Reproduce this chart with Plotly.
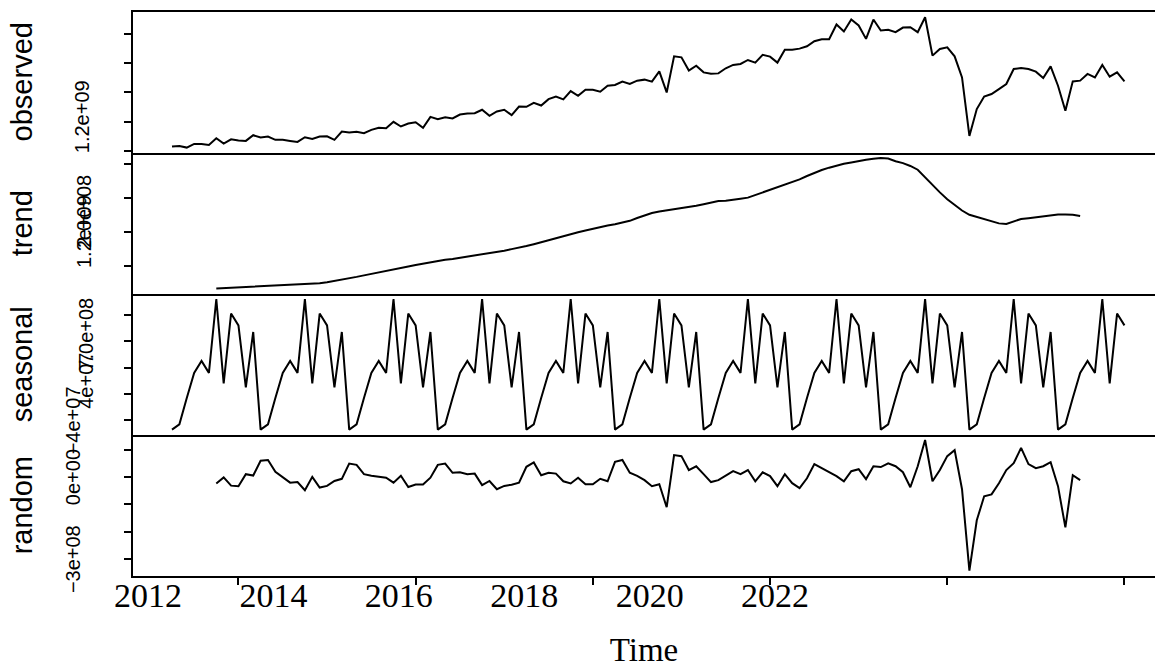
import numpy as np
import plotly.graph_objects as go

# Monthly series, April 2011 .. January 2022
START = 2011 + 3 / 12
N = 130

observed_bn = [
    1.028, 1.032, 1.021, 1.046, 1.046, 1.039, 1.085, 1.048, 1.078, 1.069, 1.067, 1.106,
    1.090, 1.097, 1.074, 1.074, 1.067, 1.060, 1.092, 1.080, 1.097, 1.099, 1.074, 1.131,
    1.124, 1.129, 1.120, 1.143, 1.157, 1.154, 1.198, 1.166, 1.186, 1.195, 1.157, 1.232,
    1.216, 1.230, 1.221, 1.248, 1.255, 1.257, 1.281, 1.239, 1.269, 1.281, 1.244, 1.303,
    1.301, 1.329, 1.310, 1.354, 1.372, 1.352, 1.409, 1.377, 1.418, 1.418, 1.405, 1.446,
    1.451, 1.474, 1.458, 1.481, 1.488, 1.474, 1.545, 1.400, 1.648, 1.641, 1.550, 1.584,
    1.538, 1.529, 1.531, 1.566, 1.589, 1.596, 1.623, 1.605, 1.658, 1.646, 1.605, 1.694,
    1.694, 1.701, 1.717, 1.752, 1.766, 1.766, 1.867, 1.819, 1.901, 1.860, 1.768, 1.901,
    1.826, 1.830, 1.814, 1.846, 1.848, 1.814, 1.917, 1.653, 1.699, 1.710, 1.648, 1.503,
    1.101, 1.286, 1.372, 1.389, 1.423, 1.458, 1.561, 1.568, 1.561, 1.543, 1.499, 1.579,
    1.446, 1.274, 1.476, 1.481, 1.527, 1.503, 1.589, 1.508, 1.538, 1.476,
]

# centred moving average, defined from the 7th to the 124th month
trend_bn = [
    1.066, 1.068, 1.071, 1.073, 1.076, 1.079, 1.081, 1.083, 1.085, 1.087, 1.088, 1.091,
    1.093, 1.095, 1.098, 1.104, 1.111, 1.119, 1.126, 1.135, 1.144, 1.152, 1.161, 1.169,
    1.178, 1.187, 1.196, 1.205, 1.213, 1.221, 1.230, 1.236, 1.241, 1.248, 1.253, 1.260,
    1.266, 1.272, 1.281, 1.290, 1.299, 1.307, 1.317, 1.328, 1.338, 1.351, 1.363, 1.376,
    1.389, 1.399, 1.409, 1.420, 1.431, 1.439, 1.446, 1.454, 1.466, 1.483, 1.497, 1.512,
    1.521, 1.527, 1.533, 1.540, 1.547, 1.555, 1.564, 1.574, 1.583, 1.584, 1.588, 1.596,
    1.603, 1.618, 1.632, 1.647, 1.662, 1.677, 1.694, 1.711, 1.731, 1.749, 1.766, 1.780,
    1.793, 1.803, 1.811, 1.820, 1.827, 1.833, 1.837, 1.834, 1.818, 1.807, 1.790, 1.768,
    1.722, 1.675, 1.634, 1.594, 1.560, 1.527, 1.502, 1.489, 1.476, 1.461, 1.451, 1.448,
    1.463, 1.477, 1.482, 1.488, 1.495, 1.500, 1.504, 1.504, 1.502, 1.495,
]

# seasonal figure, April .. March (units of 1e7)
seasonal_e7 = [-4.7, -4.3, -2.3, -0.4, 0.5, -0.4, 5.2, -1.2, 4.1, 3.2, -1.5, 2.7]

# remainder, same span as the trend (units of 1e8)
random_e8 = [
    -0.23, -0.01, -0.31, -0.33, 0.11, 0.06, 0.60, 0.63, 0.20, -0.01, -0.20, -0.18,
    -0.48, 0.01, -0.38, -0.32, -0.14, -0.06, 0.50, 0.45, 0.11, 0.05, 0.01, -0.02,
    -0.20, 0.05, -0.36, -0.27, -0.27, -0.02, 0.45, 0.50, 0.16, 0.18, 0.11, 0.13,
    -0.29, -0.14, -0.44, -0.32, -0.28, -0.20, 0.38, 0.54, 0.07, 0.16, 0.13, -0.15,
    -0.23, -0.02, -0.26, -0.26, -0.06, -0.15, 0.56, 0.63, 0.16, 0.05, -0.11, -0.33,
    -0.26, -1.10, 0.81, 0.77, 0.26, 0.40, 0.11, -0.18, -0.11, 0.04, 0.22, 0.11,
    0.26, -0.15, 0.18, 0.04, -0.33, 0.11, -0.22, -0.40, -0.04, 0.48, 0.33, 0.18,
    0.04, -0.15, 0.22, 0.29, -0.07, 0.40, 0.37, 0.51, 0.40, 0.18, -0.37, 0.40,
    1.36, -0.15, 0.26, 0.77, 0.99, -0.44, -3.42, -1.58, -0.70, -0.63, -0.22, 0.26,
    0.51, 1.07, 0.48, 0.33, 0.40, 0.55, -0.33, -1.84, 0.07, -0.11,
]

year_ticks = [2012, 2014, 2016, 2018, 2020, 2022]
panel_names = ["observed", "trend", "seasonal", "random"]

# y tick positions per panel and the tick labels that are printed
y_ticks = [
    [1.0e9, 1.2e9, 1.4e9, 1.6e9, 1.8e9],
    [1.2e9, 1.4e9, 1.6e9, 1.8e9],
    [-4e7, -2e7, 0, 2e7, 4e7],
    [-3e8, -2e8, -1e8, 0, 1e8],
]
y_labels = [
    [(1.23e9, "1.2e+09", 82)],
    [(1.4e9, "1.2e+09", 84), (1.52e9, "2.0e+08", 84)],
    [(-4e7, "\u22124e+07", 73), (-1e7, "4e+07", 86), (2.5e7, "7.0e+08", 86)],
    [(-3e8, "\u22123e+08", 73), (0, "0e+00", 73)],
]

t = START + np.arange(N) / 12
obs = np.array(observed_bn) * 1e9
tr = np.array(trend_bn) * 1e9
sea = np.array([seasonal_e7[i % 12] for i in range(N)]) * 1e7
rnd = np.array(random_e8) * 1e8
t_mid = t[6:6 + len(trend_bn)]

series = [(t, obs), (t_mid, tr), (t, sea), (t_mid, rnd)]

W, H = 1155, 668
LEFT, RIGHT = 133, 1155
panel_px = [(12, 152.8), (152.8, 293.8), (293.8, 434.8), (434.8, 575.8)]
px_per_year = 88.6
x_lo = START - (172 - LEFT) / px_per_year
x_hi = x_lo + (RIGHT - LEFT) / px_per_year

SANS = "Liberation Sans, Arial"
SERIF = "Liberation Serif, Times New Roman"

fig = go.Figure()
layout = dict(
    width=W, height=H, autosize=False,
    margin=dict(l=0, r=0, t=0, b=0, autoexpand=False),
    paper_bgcolor="white", plot_bgcolor="white",
    showlegend=False,
)

annotations = []
for k, (name, (xs, ys)) in enumerate(zip(panel_names, series)):
    n = k + 1
    fig.add_trace(go.Scatter(
        x=xs, y=ys, mode="lines",
        line=dict(color="black", width=2),
        xaxis=f"x{n}", yaxis=f"y{n}", hoverinfo="skip",
    ))
    lo, hi = float(np.min(ys)), float(np.max(ys))
    pad = 0.04 * (hi - lo)
    top, bot = panel_px[k]
    layout[f"yaxis{n}"] = dict(
        domain=[1 - bot / H, 1 - top / H],
        range=[lo - pad, hi + pad],
        anchor=f"x{n}", automargin=False,
        showgrid=False, zeroline=False,
        showline=True, linecolor="black", linewidth=2,
        ticks="outside", ticklen=7, tickwidth=2, tickcolor="black",
        tickvals=y_ticks[k], showticklabels=False,
    )
    layout[f"xaxis{n}"] = dict(
        domain=[LEFT / W, RIGHT / W],
        range=[x_lo, x_hi],
        anchor=f"y{n}", automargin=False,
        showgrid=False, zeroline=False,
        showline=True, mirror=(n == 1), linecolor="black", linewidth=2,
        ticks="outside" if n == 4 else "", ticklen=7, tickwidth=2, tickcolor="black",
        tickvals=year_ticks if n == 4 else [], showticklabels=False,
    )
    if n > 1:
        layout[f"xaxis{n}"]["matches"] = "x"
    annotations.append(dict(
        text=name, textangle=-90, showarrow=False,
        xref="paper", yref="paper",
        x=22 / W, y=1 - (top + bot) / 2 / H,
        xanchor="center", yanchor="middle",
        font=dict(family=SANS, size=29, color="black"),
    ))
    for val, txt, xpx in y_labels[k]:
        annotations.append(dict(
            text=txt, textangle=-90, showarrow=False,
            xref="paper", yref=f"y{n}",
            x=xpx / W, y=val,
            xanchor="center", yanchor="middle",
            font=dict(family=SANS, size=20, color="black"),
        ))

# year labels printed under the bottom panel
lab_lo, lab_hi = 2011.76, 2028.06
fig.add_trace(go.Scatter(x=[lab_lo], y=[None], xaxis="x5", yaxis="y4",
                         mode="markers", marker=dict(opacity=0), hoverinfo="skip"))
layout["xaxis5"] = dict(
    overlaying="x4", anchor="y4", side="bottom", automargin=False,
    domain=[LEFT / W, RIGHT / W], range=[lab_lo, lab_hi],
    tickvals=year_ticks, ticktext=[str(y) for y in year_ticks],
    ticks="", showline=False, showgrid=False, zeroline=False,
    tickfont=dict(family=SERIF, size=34, color="black"),
    ticklabelstandoff=-4,
    title=dict(text="Time", standoff=26,
               font=dict(family=SERIF, size=33, color="black")),
)
layout["annotations"] = annotations
fig.update_layout(**layout)
fig.write_html("out.html")
